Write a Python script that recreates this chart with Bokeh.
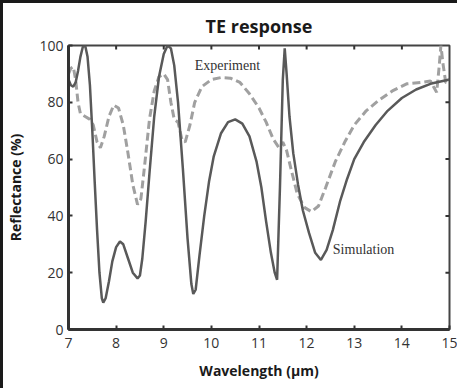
from bokeh.plotting import figure
from bokeh.models import Range1d, FixedTicker
from bokeh.core.properties import value
from bokeh.embed import file_html
from bokeh.resources import INLINE

# Simulation (solid)
sim_x = [7.00, 7.05, 7.10, 7.15, 7.20, 7.25, 7.30, 7.35, 7.40, 7.45, 7.50, 7.55, 7.60, 7.65,
         7.70, 7.73, 7.78, 7.85, 7.92, 8.00, 8.08, 8.15, 8.25, 8.35, 8.45, 8.50, 8.55, 8.62,
         8.70, 8.80, 8.90, 9.00, 9.08, 9.15, 9.22, 9.30, 9.40, 9.50, 9.58, 9.62, 9.67, 9.75,
         9.85, 9.95, 10.05, 10.20, 10.35, 10.50, 10.65, 10.80, 10.95, 11.05, 11.15, 11.25,
         11.33, 11.38, 11.44, 11.50, 11.54, 11.58, 11.64, 11.72, 11.82, 11.92, 12.05, 12.18,
         12.30, 12.42, 12.55, 12.70, 12.85, 13.00, 13.20, 13.45, 13.70, 14.00, 14.30, 14.60, 15.00]
sim_y = [88, 86, 85.5, 87, 91, 96, 99.5, 100, 96, 86, 70, 52, 35, 20,
         11, 9.5, 11, 17, 24, 29, 31, 30, 25, 20, 18, 19, 25, 38,
         55, 75, 89, 97, 100, 99, 93, 80, 57, 32, 16, 12.5, 14, 26,
         40, 52, 61, 69, 73, 74, 72.5, 68, 59, 50, 38, 27,
         20, 17.5, 50, 88, 99, 90, 75, 62, 51, 42, 34, 27,
         24.5, 28, 35, 45, 53, 60, 66, 72, 77, 81.5, 84.5, 86.5, 88]

# Experiment (dashed)
exp_x = [7.00, 7.05, 7.10, 7.15, 7.20, 7.25, 7.35, 7.45, 7.52, 7.60, 7.67, 7.75, 7.85, 7.95,
         8.05, 8.15, 8.25, 8.35, 8.45, 8.52, 8.60, 8.70, 8.80, 8.90, 9.00, 9.08, 9.15, 9.22,
         9.30, 9.38, 9.45, 9.55, 9.65, 9.80, 10.00, 10.20, 10.40, 10.60, 10.80, 11.00, 11.15,
         11.30, 11.42, 11.50, 11.58, 11.68, 11.80, 11.95, 12.10, 12.25, 12.40, 12.60, 12.80,
         13.00, 13.25, 13.50, 13.80, 14.10, 14.40, 14.60, 14.68, 14.73, 14.78, 14.82, 14.86,
         14.92, 15.00]
exp_y = [90, 92, 92.5, 88, 80, 76, 75, 74, 72, 66, 64, 68, 75, 79,
         78, 72, 62, 51, 44, 46, 58, 74, 84, 89, 90, 88, 80, 74,
         73, 67, 66, 72, 80, 85.5, 88, 88.7, 88.5, 87, 83, 78, 73,
         67, 64, 66, 63, 56, 48, 43, 41.5, 43.5, 50, 59, 66,
         72, 77, 80.5, 84, 86.5, 87, 87.5, 85, 83.5, 92, 100, 94,
         87, 87]

x_ticks = [7, 8, 9, 10, 11, 12, 13, 14, 15]
y_ticks = [0, 20, 40, 60, 80, 100]

p = figure(frame_width=381, frame_height=284, output_backend="svg", toolbar_location=None,
           x_range=Range1d(7, 15), y_range=Range1d(0, 100),
           title="TE response", x_axis_label="Wavelength (µm)",
           y_axis_label="Reflectance (%)")
p.styles = {"border-left": "3px solid #1a1a1a", "border-top": "3px solid #1a1a1a"}
p.min_border_left = 65
p.min_border_right = 8
p.min_border_top = 41
p.min_border_bottom = 59

p.title.align = "center"
p.title.text_font = "Open Sans"
p.title.text_font_size = "18px"
p.title.text_font_style = "bold"
p.title.text_color = "#1a1a1a"
p.title.standoff = 16

p.grid.visible = False
p.outline_line_color = "#444444"
p.outline_line_width = 2
p.background_fill_color = "white"
p.border_fill_color = "white"

for ax in (p.xaxis[0], p.yaxis[0]):
    ax.axis_line_width = 3
    ax.axis_line_color = "#333333"
    ax.major_tick_in = 4
    ax.major_tick_out = 0
    ax.major_tick_line_width = 2
    ax.major_tick_line_color = "#333333"
    ax.minor_tick_line_color = None
    ax.major_label_text_font = "Open Sans"
    ax.major_label_text_font_size = "14px"
    ax.major_label_text_color = "#333333"
    ax.axis_label_text_font = "Open Sans"
    ax.axis_label_text_font_size = "14px"
    ax.axis_label_text_font_style = "bold"
    ax.axis_label_text_color = "#1a1a1a"
p.xaxis[0].ticker = FixedTicker(ticks=x_ticks)
p.yaxis[0].ticker = FixedTicker(ticks=y_ticks)
p.xaxis[0].major_label_standoff = 8
p.yaxis[0].major_label_standoff = 5
p.xaxis[0].axis_label_standoff = 10
p.yaxis[0].axis_label_standoff = 11

# inward ticks on the top and right edges of the frame
p.segment(x0=x_ticks[1:-1], y0=[100] * 7, x1=x_ticks[1:-1], y1=[98.6] * 7,
          line_color="#333333", line_width=2)
p.segment(x0=[15] * 4, y0=y_ticks[1:-1], x1=[14.915] * 4, y1=y_ticks[1:-1],
          line_color="#333333", line_width=2)

p.line(exp_x, exp_y, line_color="#a0a0a0", line_width=3, line_dash="8 4")
p.line(sim_x, sim_y, line_color="#595959", line_width=2.5)

p.text(x=[9.65], y=[93], text=["Experiment"], text_font=value("Liberation Serif"),
       text_font_size="14px", text_color="#333333", text_baseline="middle", text_align="left")
p.text(x=[12.55], y=[28], text=["Simulation"], text_font=value("Liberation Serif"),
       text_font_size="14px", text_color="#333333", text_baseline="middle", text_align="left")

open("out.html", "w").write(file_html(p, INLINE))
